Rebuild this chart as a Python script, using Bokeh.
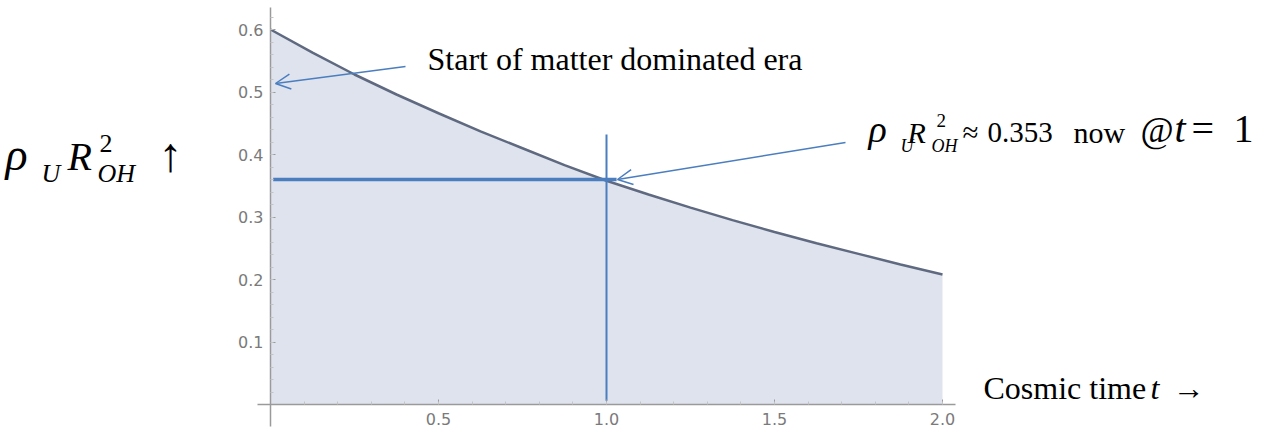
from bokeh.plotting import figure
from bokeh.models import (Range1d, LinearAxis, FixedTicker, Label, Arrow, OpenHead,
                          ColumnDataSource, PrintfTickFormatter)
from bokeh.embed import file_html
from bokeh.resources import INLINE

# ---------------- data ----------------
t_values = [0.0, 0.125, 0.25, 0.375, 0.5, 0.625, 0.75, 0.875, 1.0,
            1.125, 1.25, 1.375, 1.5, 1.625, 1.75, 1.875, 2.0]
rho_values = [0.600, 0.563, 0.528, 0.496, 0.466, 0.437, 0.410, 0.383, 0.358,
              0.336, 0.315, 0.295, 0.276, 0.258, 0.241, 0.224, 0.208]
t_now = 1.0
rho_now_level = 0.36
vline_top = 0.432
x_ticks = [0.5, 1.0, 1.5, 2.0]
x_minor = [round(0.1 * i, 2) for i in range(1, 21)]
y_ticks = [0.1, 0.2, 0.3, 0.4, 0.5, 0.6]
y_minor = [round(0.02 * i, 2) for i in range(1, 32)]

# ---------------- layout helpers (canvas px -> data) ----------------
X0_PX, X_SCALE = 270.0, 336.0   # x=0 at px 270, 336 px per unit
Y0_PX, Y_SCALE = 404.0, 625.0   # y=0 at px 404, 625 px per unit


def sx(px):
    return (px - X0_PX) / X_SCALE


def sy(py):
    return (Y0_PX - py) / Y_SCALE


W, H = 1266, 435

p = figure(width=W, height=H, output_backend="svg", toolbar_location=None,
           x_axis_type=None, y_axis_type=None,
           x_range=Range1d(sx(0), sx(W)),
           y_range=Range1d(sy(H), sy(0)),
           min_border=0)
p.outline_line_color = None
p.background_fill_color = "white"
p.border_fill_color = "white"

AX_COL = "#9a9a9a"
LBL_COL = "#7a7a7a"

xaxis = LinearAxis(ticker=FixedTicker(ticks=x_ticks, minor_ticks=x_minor),
                   formatter=PrintfTickFormatter(format="%.1f"),
                   bounds=(-0.04, 2.04), fixed_location=0)
xaxis.axis_line_color = AX_COL
xaxis.axis_line_width = 1.5
xaxis.major_tick_line_color = AX_COL
xaxis.minor_tick_line_color = "#c4c4c4"
xaxis.major_tick_in = 5
xaxis.major_tick_out = 0
xaxis.minor_tick_in = 3
xaxis.minor_tick_out = 0
xaxis.major_label_standoff = 8
xaxis.major_label_text_font = "DejaVu Sans"
xaxis.major_label_text_font_size = "16px"
xaxis.major_label_text_color = LBL_COL
p.add_layout(xaxis, "below")

yaxis = LinearAxis(ticker=FixedTicker(ticks=y_ticks, minor_ticks=y_minor),
                   formatter=PrintfTickFormatter(format="%.1f"),
                   bounds=(-0.035, 0.636), fixed_location=0)
yaxis.axis_line_color = AX_COL
yaxis.axis_line_width = 1.5
yaxis.major_tick_line_color = AX_COL
yaxis.minor_tick_line_color = "#c4c4c4"
yaxis.major_tick_in = 5
yaxis.major_tick_out = 0
yaxis.minor_tick_in = 3
yaxis.minor_tick_out = 0
yaxis.major_label_standoff = 7
yaxis.major_label_text_font = "DejaVu Sans"
yaxis.major_label_text_font_size = "16px"
yaxis.major_label_text_color = LBL_COL
p.add_layout(yaxis, "left")

src = ColumnDataSource(dict(t=t_values, rho=rho_values, zero=[0.0] * len(t_values)))
p.varea(x="t", y1="zero", y2="rho", source=src, fill_color="#dfe3ee", fill_alpha=1.0)
p.line(x="t", y="rho", source=src, line_color="#5f6a80", line_width=2.5)

BLUE = "#4a7ebf"
p.segment(x0=[0.008], y0=[rho_now_level], x1=[t_now + 0.03], y1=[rho_now_level],
          line_color=BLUE, line_width=3.5)
p.segment(x0=[t_now], y0=[0.006], x1=[t_now], y1=[vline_top],
          line_color=BLUE, line_width=2)

p.add_layout(Arrow(end=OpenHead(size=15, line_color=BLUE, line_width=1.5),
                   x_start=sx(405), y_start=sy(66), x_end=sx(275), y_end=sy(83),
                   line_color=BLUE, line_width=1.5))
p.add_layout(Arrow(end=OpenHead(size=15, line_color=BLUE, line_width=1.5),
                   x_start=sx(845), y_start=sy(142), x_end=sx(617), y_end=sy(179),
                   line_color=BLUE, line_width=1.5))

SERIF = "Liberation Serif"
BASE_FIX = 0.35  # Label baseline correction (fraction of font size)


def txt(s, px, py, size, italic=False, font=SERIF):
    p.add_layout(Label(x=sx(px), y=sy(py - BASE_FIX * size), text=s, text_font=font,
                       text_font_size=f"{size}px",
                       text_font_style="italic" if italic else "normal",
                       text_baseline="alphabetic", text_align="left",
                       text_color="black"))


# y-axis title
txt("ρ", 5, 170, 46, True)
txt("U", 41, 182, 26, True)
txt("R", 67, 170, 40, True)
txt("2", 99, 152, 26)
txt("OH", 97, 182, 26, True)
txt("↑", 158, 171, 48)

# top annotation
txt("Start of matter dominated era", 427, 70, 32)

# current value annotation
txt("ρ", 868, 142, 38, True)
txt("U", 900, 152, 18, True)
txt("R", 907, 142, 30, True)
txt("2", 936, 127, 19)
txt("OH", 931, 152, 18, True)
txt("≈", 962, 142, 29)
txt("0.353", 987, 142, 29)
txt("now", 1073, 142, 30)
txt("@", 1140, 142, 36)
txt("t", 1174, 142, 40, True)
txt("=", 1191, 142, 40)
txt("1", 1233, 142, 40)

# x-axis title
txt("Cosmic time", 983, 399, 32)
txt("t", 1150, 399, 32, True)
txt("→", 1172, 399, 32)

open("out.html", "w").write(file_html(p, INLINE))
